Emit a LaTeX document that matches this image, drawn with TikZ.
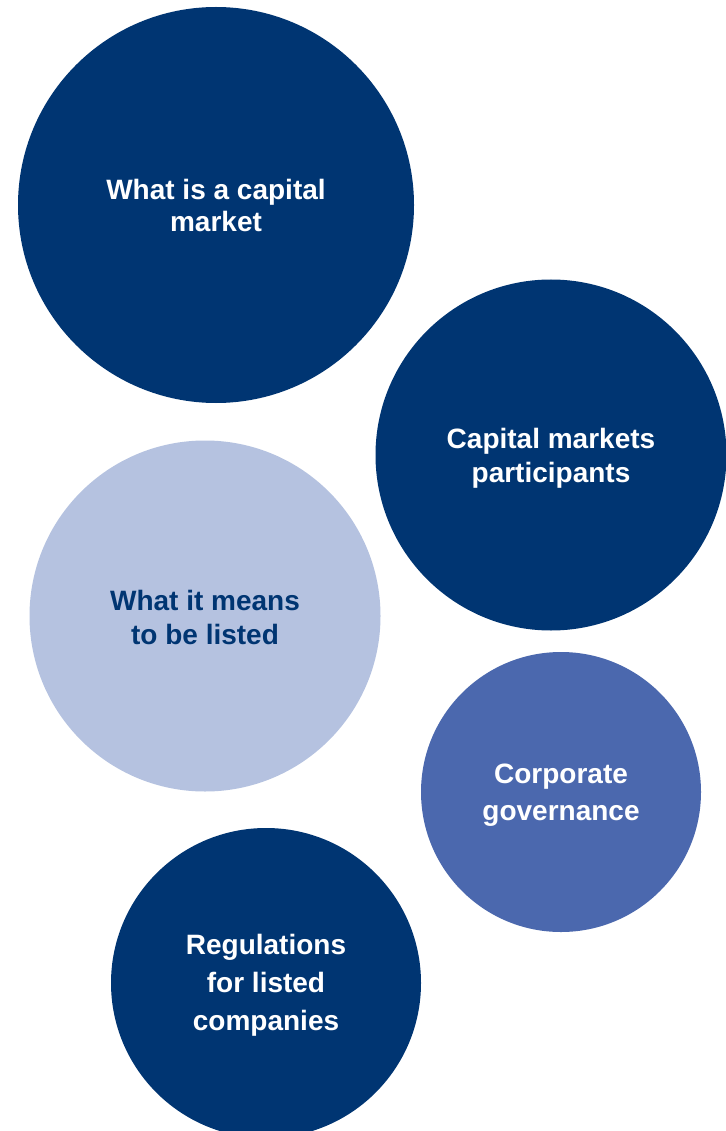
\documentclass[tikz,border=0pt]{standalone}
\usepackage{fontspec}
\setmainfont{Liberation Sans}
\begin{document}
\definecolor{navy}{RGB}{0,53,114}
\definecolor{lavender}{RGB}{181,194,224}
\definecolor{midblue}{RGB}{75,104,174}
\begin{tikzpicture}[x=1pt,y=-1pt,
  bubble/.style={circle,inner sep=0pt,minimum size=#1},
  caption/.style={inner sep=0pt,align=center,
    font=\bfseries\fontsize{28}{#1}\selectfont},
  caption/.default=34]
\useasboundingbox (0,0) rectangle (725,1131);
\fill[white] (0,0) rectangle (725,1131);
% topic bubbles
\node[bubble=396pt,fill=navy]     (capmarket)    at (216,205) {};
\node[bubble=351pt,fill=navy]     (participants) at (551,455) {};
\node[bubble=351pt,fill=lavender] (listed)       at (205,616) {};
\node[bubble=280pt,fill=midblue]  (governance)   at (561,792) {};
\node[bubble=310pt,fill=navy]     (regulations)  at (266,983) {};
% their titles
\node[caption=32,text=white] (capmarket-t)
  at ([yshift=-0.5pt]capmarket.center) {What is a capital\\market};
\node[caption=34,text=white] (participants-t)
  at ([yshift=-3pt]participants.center) {Capital markets\\participants};
\node[caption=34,text=navy] (listed-t)
  at ([yshift=-1pt]listed.center) {What it means\\to be listed};
\node[caption=37,text=white] (governance-t)
  at ([yshift=-3pt]governance.center) {Corporate\\governance};
\node[caption=38,text=white] (regulations-t)
  at ([yshift=-2pt]regulations.center) {Regulations\\for listed\\companies};
\end{tikzpicture}
\end{document}
